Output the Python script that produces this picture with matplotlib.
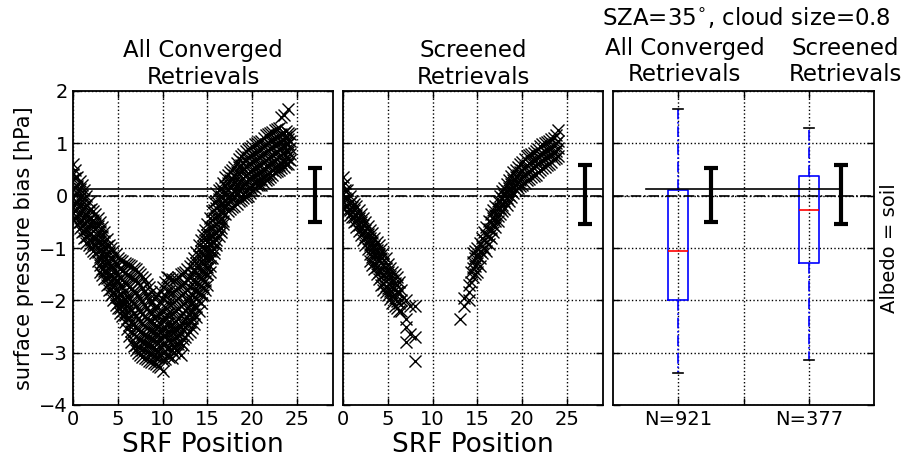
import numpy as np
import matplotlib
matplotlib.use('Agg')
import matplotlib.pyplot as plt

# SRF position columns and the bias values
# (all converged retrievals)
all_pos = [0.0, 0.25, 0.5, 0.75, 1.0, 1.25, 1.5, 1.75, 2.0, 2.25, 2.5, 2.75,
           3.0, 3.25, 3.5, 3.75, 4.0, 4.25, 4.5, 4.75, 5.0, 5.25, 5.5, 5.75,
           6.0, 6.25, 6.5, 6.75, 7.0, 7.25, 7.5, 7.75, 8.0, 8.25, 8.5, 8.75,
           9.0, 9.25, 9.5, 9.75, 10.0, 10.25, 10.5, 10.75, 11.0, 11.25, 11.5,
           11.75, 12.0, 12.25, 12.5, 12.75, 13.0, 13.25, 13.5, 13.75, 14.0,
           14.25, 14.5, 14.75, 15.0, 15.25, 15.5, 15.75, 16.0, 16.25, 16.5,
           16.75, 17.0, 17.25, 17.5, 17.75, 18.0, 18.25, 18.5, 18.75, 19.0,
           19.25, 19.5, 19.75, 20.0, 20.25, 20.5, 20.75, 21.0, 21.25, 21.5,
           21.75, 22.0, 22.25, 22.5, 22.75, 23.0, 23.25, 23.5, 23.75, 24.0, 24.25]
all_bias = [
    [0.6, 0.42, 0.31, 0.12, -0.04, -0.22, -0.33, -0.45],
    [0.5, 0.33, 0.17, 0.02, -0.14, -0.3, -0.42],
    [0.35, 0.18, 0.06, -0.12, -0.24, -0.41, -0.55],
    [0.28, 0.12, -0.04, -0.19, -0.35, -0.5, -0.62],
    [0.2, 0.02, -0.16, -0.28, -0.46, -0.58, -0.7],
    [0.1, -0.07, -0.23, -0.39, -0.55, -0.68, -0.8],
    [0.0, -0.18, -0.36, -0.48, -0.66, -0.79, -0.9],
    [-0.12, -0.28, -0.44, -0.6, -0.75, -0.95],
    [-0.25, -0.42, -0.53, -0.71, -0.84, -1.0],
    [-0.3, -0.46, -0.6, -0.77, -0.92, -1.05],
    [-0.35, -0.52, -0.63, -0.82, -0.94, -1.1],
    [-0.42, -0.58, -0.75, -0.9, -1.08, -1.25],
    [-0.5, -0.68, -0.86, -1.02, -1.18, -1.33, -1.45],
    [-0.6, -0.78, -0.93, -1.1, -1.26, -1.41, -1.52],
    [-0.7, -0.87, -0.99, -1.16, -1.31, -1.44, -1.6],
    [-0.82, -0.97, -1.13, -1.29, -1.45, -1.58, -1.7],
    [-0.95, -1.08, -1.26, -1.38, -1.56, -1.68, -1.8],
    [-1.0, -1.17, -1.33, -1.49, -1.64, -1.78, -1.9],
    [-1.05, -1.22, -1.38, -1.57, -1.69, -1.86, -2.0],
    [-1.12, -1.29, -1.45, -1.62, -1.78, -1.93, -2.08],
    [-1.2, -1.33, -1.52, -1.64, -1.82, -1.93, -2.06, -2.15],
    [-1.22, -1.4, -1.57, -1.72, -1.87, -2.01, -2.14, -2.24],
    [-1.25, -1.43, -1.62, -1.74, -1.91, -2.04, -2.21, -2.3],
    [-1.28, -1.47, -1.66, -1.83, -1.99, -2.14, -2.28, -2.42],
    [-1.3, -1.52, -1.68, -1.91, -2.04, -2.22, -2.36, -2.55],
    [-1.32, -1.54, -1.75, -1.95, -2.13, -2.31, -2.48, -2.68],
    [-1.35, -1.56, -1.78, -2.02, -2.18, -2.41, -2.58, -2.8],
    [-1.38, -1.6, -1.83, -2.05, -2.26, -2.46, -2.64, -2.88],
    [-1.4, -1.62, -1.84, -2.11, -2.28, -2.52, -2.69, -2.86, -2.95],
    [-1.45, -1.67, -1.92, -2.16, -2.36, -2.56, -2.73, -2.89, -3.0],
    [-1.5, -1.71, -1.98, -2.22, -2.39, -2.61, -2.74, -2.92, -3.05],
    [-1.55, -1.77, -2.04, -2.27, -2.46, -2.63, -2.79, -2.95, -3.08],
    [-1.6, -1.82, -2.08, -2.31, -2.49, -2.66, -2.81, -2.94, -3.1],
    [-1.68, -1.9, -2.15, -2.34, -2.53, -2.69, -2.83, -2.98, -3.12],
    [-1.75, -1.98, -2.21, -2.38, -2.56, -2.71, -2.84, -3.02, -3.15],
    [-1.85, -2.06, -2.26, -2.42, -2.58, -2.73, -2.88, -3.03, -3.18],
    [-1.95, -2.14, -2.32, -2.44, -2.61, -2.76, -2.89, -3.06, -3.2],
    [-1.92, -2.12, -2.3, -2.47, -2.63, -2.78, -2.93, -3.08, -3.22],
    [-1.9, -2.12, -2.28, -2.51, -2.64, -2.81, -2.96, -3.09, -3.25],
    [-1.82, -2.04, -2.26, -2.45, -2.6, -2.76, -2.92, -3.07, -3.28],
    [-1.75, -1.98, -2.22, -2.39, -2.56, -2.69, -2.86, -3.01, -3.14, -3.35],
    [-1.65, -1.9, -2.13, -2.32, -2.5, -2.66, -2.81, -2.96, -3.12],
    [-1.55, -1.82, -2.04, -2.26, -2.44, -2.61, -2.74, -2.91, -3.05],
    [-1.58, -1.83, -2.05, -2.25, -2.44, -2.6, -2.76, -2.92, -3.08],
    [-1.6, -1.84, -2.06, -2.24, -2.46, -2.59, -2.76, -2.94, -3.1],
    [-1.62, -1.83, -2.03, -2.22, -2.42, -2.58, -2.73, -2.88, -3.0],
    [-1.6, -1.81, -1.99, -2.21, -2.39, -2.56, -2.69, -2.84, -2.95],
    [-1.55, -1.76, -1.95, -2.16, -2.35, -2.52, -2.67, -2.83, -2.98],
    [-1.5, -1.71, -1.89, -2.11, -2.29, -2.51, -2.64, -2.81, -3.05],
    [-1.48, -1.68, -1.87, -2.07, -2.25, -2.42, -2.57, -2.74, -2.85],
    [-1.45, -1.66, -1.84, -2.06, -2.19, -2.36, -2.51, -2.7],
    [-1.4, -1.6, -1.8, -2.0, -2.15, -2.31, -2.46, -2.65],
    [-1.35, -1.56, -1.74, -1.96, -2.09, -2.26, -2.41, -2.6],
    [-1.28, -1.48, -1.68, -1.88, -2.03, -2.18, -2.33, -2.52],
    [-1.2, -1.41, -1.59, -1.81, -1.94, -2.11, -2.26, -2.45],
    [-1.08, -1.28, -1.48, -1.68, -1.83, -1.98, -2.13, -2.32],
    [-0.95, -1.16, -1.34, -1.56, -1.69, -1.86, -2.01, -2.2],
    [-0.85, -1.05, -1.25, -1.43, -1.58, -1.73, -1.88, -2.05],
    [-0.75, -0.96, -1.14, -1.31, -1.44, -1.61, -1.74, -1.9],
    [-0.65, -0.85, -1.03, -1.19, -1.33, -1.48, -1.63, -1.8],
    [-0.55, -0.76, -0.89, -1.06, -1.19, -1.36, -1.49, -1.7],
    [-0.42, -0.6, -0.75, -0.91, -1.05, -1.2, -1.35, -1.45],
    [-0.3, -0.46, -0.59, -0.76, -0.89, -1.06, -1.2],
    [-0.12, -0.28, -0.43, -0.58, -0.73, -0.88, -1.02, -1.1],
    [0.05, -0.11, -0.24, -0.41, -0.54, -0.71, -0.84, -0.95],
    [0.1, -0.06, -0.2, -0.36, -0.5, -0.65, -0.78],
    [0.15, -0.01, -0.14, -0.31, -0.44, -0.61, -0.7],
    [0.25, 0.09, -0.05, -0.2, -0.33, -0.48, -0.55],
    [0.35, 0.19, 0.06, -0.11, -0.19, -0.35],
    [0.4, 0.24, 0.1, -0.05, -0.15, -0.3],
    [0.45, 0.29, 0.16, -0.01, -0.09, -0.25],
    [0.5, 0.34, 0.2, 0.04, -0.07, -0.22],
    [0.55, 0.39, 0.26, 0.09, -0.04, -0.2],
    [0.62, 0.46, 0.32, 0.16, 0.03, -0.15],
    [0.7, 0.54, 0.41, 0.24, 0.11, -0.1],
    [0.75, 0.59, 0.45, 0.29, 0.15, 0.0, -0.08],
    [0.8, 0.64, 0.51, 0.34, 0.21, 0.04, -0.05],
    [0.85, 0.69, 0.55, 0.39, 0.25, 0.09, -0.02],
    [0.9, 0.74, 0.61, 0.44, 0.31, 0.14, 0.0],
    [0.92, 0.76, 0.63, 0.47, 0.33, 0.17, 0.05],
    [0.95, 0.79, 0.66, 0.49, 0.36, 0.19, 0.1],
    [0.98, 0.82, 0.68, 0.52, 0.38, 0.24, 0.15],
    [1.0, 0.84, 0.71, 0.54, 0.41, 0.29, 0.2],
    [1.02, 0.86, 0.73, 0.57, 0.43, 0.3, 0.2],
    [1.05, 0.89, 0.76, 0.59, 0.46, 0.31, 0.2],
    [1.1, 0.94, 0.8, 0.64, 0.5, 0.35, 0.25],
    [1.15, 0.99, 0.86, 0.69, 0.56, 0.39, 0.3],
    [1.17, 1.01, 0.88, 0.72, 0.58, 0.42, 0.32],
    [1.2, 1.04, 0.91, 0.74, 0.61, 0.44, 0.35],
    [1.22, 1.06, 0.93, 0.77, 0.63, 0.5, 0.4],
    [1.25, 1.09, 0.96, 0.79, 0.66, 0.54, 0.45],
    [1.28, 1.12, 0.98, 0.84, 0.7, 0.56, 0.48],
    [1.3, 1.14, 1.01, 0.89, 0.76, 0.59, 0.5],
    [1.5, 1.17, 1.03, 0.91, 0.78, 0.62, 0.52],
    [1.55, 1.19, 1.06, 0.94, 0.81, 0.64, 0.55],
    [1.24, 1.12, 1.0, 0.87, 0.74, 0.6],
    [1.65, 1.2, 1.09, 0.99, 0.84, 0.71, 0.6],
    [1.18, 1.05, 0.92, 0.8, 0.68],
]

# screened retrievals
scr_pos = [0.0, 0.25, 0.5, 0.75, 1.0, 1.25, 1.5, 1.75, 2.0, 2.25, 2.5, 2.75,
           3.0, 3.25, 3.5, 3.75, 4.0, 4.25, 4.5, 4.75, 5.0, 5.25, 5.5, 5.75,
           6.0, 6.25, 6.5, 7.0, 7.5, 8.0, 13.0, 13.5, 14.0, 14.25, 14.5, 14.75,
           15.0, 15.25, 15.5, 15.75, 16.0, 16.25, 16.5, 16.75, 17.0, 17.25,
           17.5, 17.75, 18.0, 18.25, 18.5, 18.75, 19.0, 19.25, 19.5, 19.75,
           20.0, 20.25, 20.5, 20.75, 21.0, 21.25, 21.5, 21.75, 22.0, 22.25,
           22.5, 22.75, 23.0, 23.25, 23.5, 23.75, 24.0]
scr_bias = [
    [0.35, 0.21, 0.04, -0.11, -0.25],
    [0.25, 0.1, -0.05, -0.2],
    [0.1, -0.06, -0.19, -0.3],
    [0.0, -0.14, -0.27, -0.36],
    [-0.1, -0.21, -0.31, -0.4],
    [-0.15, -0.28, -0.4, -0.5],
    [-0.2, -0.36, -0.49, -0.6],
    [-0.28, -0.42, -0.56, -0.68],
    [-0.35, -0.51, -0.64, -0.75],
    [-0.42, -0.57, -0.72, -0.85],
    [-0.5, -0.66, -0.79, -0.95],
    [-0.58, -0.73, -0.88, -1.02],
    [-0.65, -0.81, -0.94, -1.11, -1.25],
    [-0.72, -0.88, -1.02, -1.18, -1.32],
    [-0.8, -0.96, -1.09, -1.29, -1.4],
    [-0.88, -1.03, -1.18, -1.36, -1.5],
    [-0.95, -1.11, -1.24, -1.46, -1.6],
    [-1.02, -1.2, -1.38, -1.56, -1.7],
    [-1.1, -1.31, -1.49, -1.69, -1.8],
    [-1.2, -1.38, -1.55, -1.72, -1.85],
    [-1.3, -1.46, -1.59, -1.76, -1.9],
    [-1.38, -1.53, -1.68, -1.83, -1.98],
    [-1.45, -1.61, -1.74, -1.91, -2.05],
    [-1.5, -1.66, -1.8, -1.96, -2.1],
    [-1.55, -1.71, -1.84, -2.01, -2.15],
    [-1.65, -1.85, -2.05, -2.2],
    [-1.8, -2.0, -2.2],
    [-2.0, -2.35, -2.5, -2.8],
    [-2.1, -2.65],
    [-2.1, -2.7, -3.15],
    [-2.35],
    [-1.95, -2.1],
    [-1.7, -1.85, -2.0],
    [-1.45, -1.65],
    [-1.1, -1.26, -1.39, -1.55],
    [-1.05, -1.2, -1.35, -1.5],
    [-1.0, -1.16, -1.29, -1.45],
    [-0.9, -1.05, -1.2, -1.35],
    [-0.8, -0.96, -1.1],
    [-0.7, -0.85, -1.0],
    [-0.6, -0.76, -0.89, -1.05],
    [-0.48, -0.63, -0.78, -0.92],
    [-0.35, -0.51, -0.64, -0.8],
    [-0.28, -0.43, -0.57, -0.7],
    [-0.2, -0.36, -0.49, -0.6],
    [-0.1, -0.24, -0.38, -0.48],
    [0.0, -0.11, -0.24, -0.35],
    [0.08, -0.05, -0.18, -0.3],
    [0.15, 0.01, -0.11, -0.25],
    [0.22, 0.08, -0.05, -0.18],
    [0.3, 0.14, 0.01, -0.1],
    [0.38, 0.22, 0.08, -0.03],
    [0.45, 0.29, 0.16, 0.05],
    [0.5, 0.35, 0.2, 0.1],
    [0.55, 0.39, 0.26, 0.15],
    [0.6, 0.45, 0.3, 0.18],
    [0.65, 0.49, 0.36, 0.2],
    [0.7, 0.55, 0.4, 0.25],
    [0.75, 0.59, 0.46, 0.3],
    [0.78, 0.62, 0.48, 0.32],
    [0.8, 0.64, 0.51, 0.35],
    [0.82, 0.67, 0.53, 0.38],
    [0.85, 0.69, 0.56, 0.4],
    [0.9, 0.75, 0.6, 0.45],
    [0.95, 0.79, 0.66, 0.5],
    [0.98, 0.82, 0.68, 0.52],
    [1.0, 0.84, 0.71, 0.55],
    [1.02, 0.87, 0.73, 0.58],
    [1.05, 0.89, 0.76, 0.6],
    [1.08, 0.92, 0.78, 0.65],
    [1.1, 0.94, 0.81, 0.7],
    [1.15, 1.0, 0.85, 0.72],
    [1.25, 1.04, 0.91, 0.75],
]

# mean bias line and 1-sigma error bars (lower end, upper end)
mean_bias = 0.13
err_all = (-0.51, 0.52)
err_scr = (-0.55, 0.58)

# box plot summaries
box_labels = ['N=921', 'N=377']
box_whislo = [-3.38, -3.14]
box_q1 = [-2.0, -1.28]
box_med = [-1.05, -0.27]
box_q3 = [0.1, 0.38]
box_whishi = [1.65, 1.3]


def flatten(pos, vals):
    xs, ys = [], []
    for p, col in zip(pos, vals):
        xs += [p] * len(col)
        ys += col
    return xs, ys


def errbar(ax, x, lims):
    lo, hi = lims
    mid = (lo + hi) / 2.0
    ax.errorbar([x], [mid], yerr=[[mid - lo], [hi - mid]], fmt='none',
                ecolor='k', elinewidth=3, capsize=5, capthick=3, zorder=4)


def style(ax):
    ax.set_ylim(-4, 2)
    ax.grid(True, color='k', linestyle=':', linewidth=1)
    ax.set_axisbelow(True)
    ax.tick_params(direction='in', top=True, right=True, length=5,
                   labelsize=14, width=1)
    for s in ax.spines.values():
        s.set_linewidth(1.3)


fig = plt.figure(figsize=(9.14, 4.58), dpi=100)
ax1 = fig.add_axes([73/914, 1 - 405/458, 260/914, 314/458])
ax2 = fig.add_axes([343/914, 1 - 405/458, 260/914, 314/458])
ax3 = fig.add_axes([613/914, 1 - 405/458, 261/914, 314/458])

for ax, pos, vals, err, title in [(ax1, all_pos, all_bias, err_all, 'All Converged\nRetrievals'),
                                   (ax2, scr_pos, scr_bias, err_scr, 'Screened\nRetrievals')]:
    xs, ys = flatten(pos, vals)
    ax.plot(xs, ys, 'x', color='k', markersize=8, markeredgewidth=1, zorder=3)
    ax.axhline(mean_bias, color='k', linewidth=1.2)
    ax.axhline(0, color='k', linestyle='-.', linewidth=1.2)
    errbar(ax, 27, err)
    style(ax)
    ax.set_xlim(0, 29)
    ax.set_xticks([0, 5, 10, 15, 20, 25])
    ax.set_xlabel('SRF Position', fontsize=19, labelpad=2)
    ax.set_title(title, fontsize=16.5, pad=5)

ax1.set_ylabel('surface pressure bias [hPa]', fontsize=15)
ax2.set_yticklabels([])

stats = []
for i in range(2):
    stats.append({'whislo': box_whislo[i], 'q1': box_q1[i], 'med': box_med[i],
                  'q3': box_q3[i], 'whishi': box_whishi[i], 'fliers': []})
ax3.bxp(stats, positions=[1, 2], widths=0.15, showfliers=False,
        boxprops=dict(color='b', linewidth=1.2),
        medianprops=dict(color='r', linewidth=1.2),
        whiskerprops=dict(color='b', linestyle='-.', linewidth=1.2),
        capprops=dict(color='k', linewidth=1.2))
ax3.plot([0.75, 2.25], [mean_bias, mean_bias], color='k', linewidth=1.2)
ax3.axhline(0, color='k', linestyle='-.', linewidth=1.2)
errbar(ax3, 1.25, err_all)
errbar(ax3, 2.25, err_scr)
style(ax3)
ax3.set_xlim(0.5, 2.5)
ax3.set_xticks([1, 1.5, 2])
ax3.set_xticklabels([box_labels[0], '', box_labels[1]])
ax3.set_yticklabels([])

tr = ax3.get_xaxis_transform()
ax3.text(1.05, 1.015, 'All Converged\nRetrievals', transform=tr, ha='center',
         va='bottom', fontsize=16.5, multialignment='center')
ax3.text(2.28, 1.015, 'Screened\nRetrievals', transform=tr, ha='center',
         va='bottom', fontsize=16.5, multialignment='center')
ax3.text(1.52, 1.235, r'SZA=35$^{\circ}$, cloud size=0.8', transform=tr,
         ha='center', va='center', fontsize=16.5)
ax3.text(1.061, 0.5, 'Albedo = soil', transform=ax3.transAxes, rotation=90,
         ha='center', va='center', fontsize=14)

fig.savefig('out.png', dpi=100)
